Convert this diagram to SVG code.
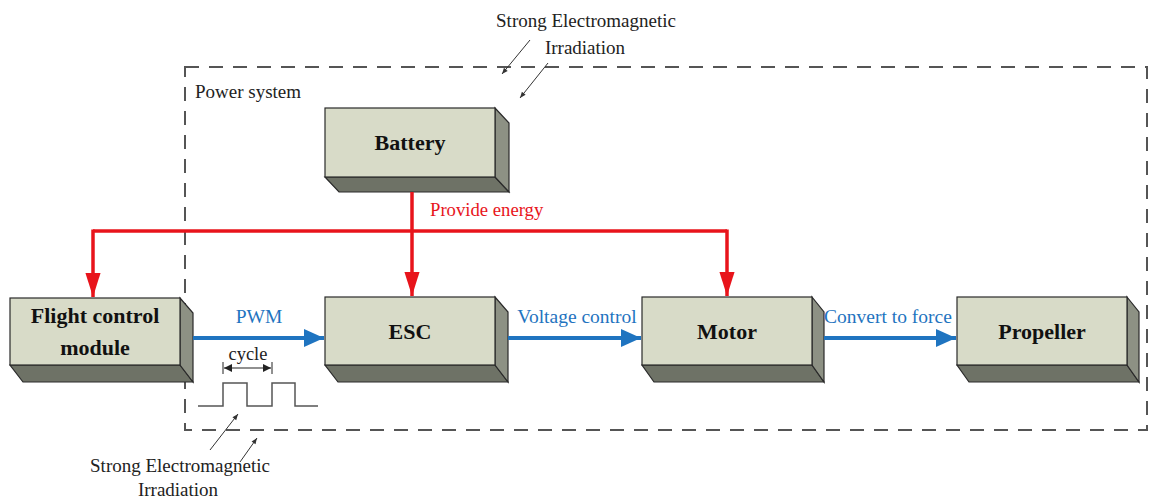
<svg xmlns="http://www.w3.org/2000/svg" width="1151" height="499" viewBox="0 0 1151 499">
<defs>
<style>
.front{fill:#d8dbc8;stroke:#2a2a2a;stroke-width:1.2}
.side{fill:#8d9184;stroke:#2a2a2a;stroke-width:1.2}
.bottom{fill:#6e7266;stroke:#2a2a2a;stroke-width:1.2}
.lbl{font-family:"Liberation Serif",serif;font-weight:bold;font-size:22px;fill:#111;text-anchor:middle}
.txt{font-family:"Liberation Serif",serif;font-size:19px;fill:#222}
.blue{font-family:"Liberation Serif",serif;font-size:19.5px;fill:#1f74c0;text-anchor:middle}
.red{stroke:#e8141b;stroke-width:3.5;fill:none}
.bl{stroke:#1f74c0;stroke-width:4;fill:none}
.thin{stroke:#333;stroke-width:1;fill:none}
</style>
<marker id="ra" viewBox="0 0 10 10" refX="10" refY="5" markerWidth="7" markerHeight="4.4" markerUnits="strokeWidth" orient="auto" preserveAspectRatio="none"><path d="M0,0 L10,5 L0,10 Z" fill="#e8141b"/></marker>
<marker id="ba" viewBox="0 0 10 10" refX="10" refY="5" markerWidth="5" markerHeight="4.5" markerUnits="strokeWidth" orient="auto" preserveAspectRatio="none"><path d="M0,0 L10,5 L0,10 Z" fill="#1f74c0"/></marker>
<marker id="ta" viewBox="0 0 10 10" refX="10" refY="5" markerWidth="7" markerHeight="6" orient="auto"><path d="M0,1 L10,5 L0,9 Z" fill="#333"/></marker>
<marker id="ca" viewBox="0 0 10 10" refX="10" refY="5" markerWidth="9" markerHeight="8" markerUnits="userSpaceOnUse" orient="auto-start-reverse"><path d="M0,0 L10,5 L0,10 Z" fill="#222"/></marker>
</defs>
<rect width="1151" height="499" fill="#ffffff"/>
<g id="power-system">
<rect x="185" y="67" width="962" height="363" fill="none" stroke="#555" stroke-width="2" stroke-dasharray="14,10"/>
<text class="txt" x="195" y="98" font-size="20">Power system</text>
</g>
<g id="battery">
<polygon class="bottom" points="325,177 495,177 509,192 339,192"/>
<polygon class="side" points="495,108 509,123 509,192 495,177"/>
<rect class="front" x="325" y="108" width="170" height="69"/>
<text class="lbl" x="410" y="150">Battery</text>
</g>
<g id="flight-control">
<polygon class="bottom" points="10,365 180,365 193,382 23,382"/>
<polygon class="side" points="180,298 193,313 193,382 180,365"/>
<rect class="front" x="10" y="298" width="170" height="67"/>
<text class="lbl" x="95" y="323">Flight control</text>
<text class="lbl" x="95" y="355">module</text>
</g>
<g id="esc">
<polygon class="bottom" points="325,365 495,365 508,382 338,382"/>
<polygon class="side" points="495,297 508,312 508,382 495,365"/>
<rect class="front" x="325" y="297" width="170" height="68"/>
<text class="lbl" x="410" y="339">ESC</text>
</g>
<g id="motor">
<polygon class="bottom" points="642,365 812,365 824,382 654,382"/>
<polygon class="side" points="812,297 824,312 824,382 812,365"/>
<rect class="front" x="642" y="297" width="170" height="68"/>
<text class="lbl" x="727" y="339">Motor</text>
</g>
<g id="propeller">
<polygon class="bottom" points="957,365 1127,365 1139,382 969,382"/>
<polygon class="side" points="1127,297 1139,312 1139,382 1127,365"/>
<rect class="front" x="957" y="297" width="170" height="68"/>
<text class="lbl" x="1042" y="339">Propeller</text>
</g>
<g id="connectors">
<path class="red" d="M412,192 V231"/>
<path class="red" d="M93,231 H727"/>
<path class="red" d="M93,229.5 V297" marker-end="url(#ra)"/>
<path class="red" d="M412,231 V296" marker-end="url(#ra)"/>
<path class="red" d="M727,229.5 V296" marker-end="url(#ra)"/>
<text x="430" y="216" font-family="Liberation Serif,serif" font-size="18.7" fill="#e8141b">Provide energy</text>
<path class="bl" d="M193,338 H324" marker-end="url(#ba)"/>
<path class="bl" d="M508,338 H641" marker-end="url(#ba)"/>
<path class="bl" d="M824,338 H956" marker-end="url(#ba)"/>
<text class="blue" x="259" y="323">PWM</text>
<text class="blue" x="577" y="323">Voltage control</text>
<text class="blue" x="888" y="323">Convert to force</text>
<path d="M198,406 H223 V383 H247 V406 H272 V383 H295 V406 H318" fill="none" stroke="#555" stroke-width="1.5"/>
<path d="M223,362 V374 M272,362 V374" stroke="#222" stroke-width="1"/>
<path d="M224,368 H271" stroke="#222" stroke-width="1.2" marker-start="url(#ca)" marker-end="url(#ca)"/>
<text x="248" y="360" font-family="Liberation Serif,serif" font-size="18.4" fill="#222" text-anchor="middle">cycle</text>
<path class="thin" d="M530,40 L502,74" marker-end="url(#ta)"/>
<path class="thin" d="M548,63 L520,98" marker-end="url(#ta)"/>
<path class="thin" d="M210,450 L238,414" marker-end="url(#ta)"/>
<path class="thin" d="M240,462 L257,438" marker-end="url(#ta)"/>
</g>
<g id="labels">
<text class="txt" x="586" y="27" text-anchor="middle">Strong Electromagnetic</text>
<text class="txt" x="585" y="54" text-anchor="middle">Irradiation</text>
<text class="txt" x="180" y="472" text-anchor="middle">Strong Electromagnetic</text>
<text class="txt" x="178" y="496" text-anchor="middle">Irradiation</text>
</g>
</svg>
